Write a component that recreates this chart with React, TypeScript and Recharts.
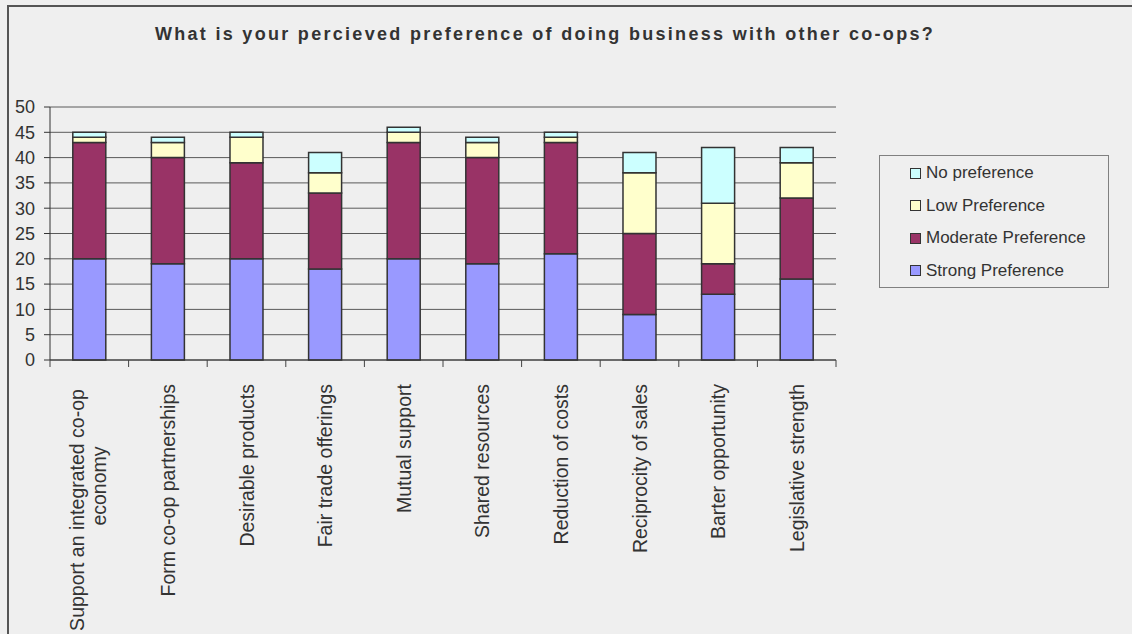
import React from 'react';
import { BarChart, Bar, XAxis, YAxis, CartesianGrid } from 'recharts';

const categories = [
  'Support an integrated co-op economy',
  'Form co-op partnerships',
  'Desirable products',
  'Fair trade offerings',
  'Mutual support',
  'Shared resources',
  'Reduction of costs',
  'Reciprocity of sales',
  'Barter opportunity',
  'Legislative strength',
];

const strongPref = [20, 19, 20, 18, 20, 19, 21, 9, 13, 16];
const moderatePref = [23, 21, 19, 15, 23, 21, 22, 16, 6, 16];
const lowPref = [1, 3, 5, 4, 2, 3, 1, 12, 12, 7];
const noPref = [1, 1, 1, 4, 1, 1, 1, 4, 11, 3];

const yTicks = [0, 5, 10, 15, 20, 25, 30, 35, 40, 45, 50];

const SERIES = [
  { key: 'strong', name: 'Strong Preference', color: '#9999ff' },
  { key: 'moderate', name: 'Moderate Preference', color: '#993366' },
  { key: 'low', name: 'Low Preference', color: '#ffffcc' },
  { key: 'none', name: 'No preference', color: '#ccffff' },
];

const data = categories.map((name, i) => ({
  name,
  strong: strongPref[i],
  moderate: moderatePref[i],
  low: lowPref[i],
  none: noPref[i],
}));

const FONT = '"Liberation Sans", Arial, sans-serif';
const TEXT = '#333333';

const CHART_W = 1132;
const CHART_H = 634;
const MARGIN = { top: 107, right: 296, bottom: 0, left: 0 };
const Y_AXIS_W = 50;
const X_AXIS_H = 274;

function CategoryTick(props: any) {
  const { x, y, payload, index } = props;
  const step = (CHART_W - MARGIN.right - MARGIN.left - Y_AXIS_W) / categories.length;
  const label: string = payload.value;
  const lines = label === categories[0] ? ['Support an integrated co-op', 'economy'] : [label];
  const top = y - 8;
  return (
    <g>
      <line x1={x - step / 2} y1={top} x2={x - step / 2} y2={top + 7} stroke="#444" />
      {index === categories.length - 1 && (
        <line x1={x + step / 2} y1={top} x2={x + step / 2} y2={top + 7} stroke="#444" />
      )}
      {lines.length === 1 ? (
        <text
          x={x}
          y={top + 24}
          transform={`rotate(-90, ${x}, ${top + 24})`}
          textAnchor="end"
          dominantBaseline="central"
          fontFamily={FONT}
          fontSize={19.5}
          fill={TEXT}
        >
          {lines[0]}
        </text>
      ) : (
        <text
          transform={`rotate(-90, ${x}, ${top + 150})`}
          x={x}
          y={top + 150}
          textAnchor="middle"
          fontFamily={FONT}
          fontSize={19.5}
          fill={TEXT}
        >
          <tspan x={x} dy={-5}>{lines[0]}</tspan>
          <tspan x={x + 24} dy={22}>{lines[1]}</tspan>
        </text>
      )}
    </g>
  );
}

function LegendBox() {
  const items = [...SERIES].reverse();
  return (
    <div
      style={{
        position: 'absolute',
        left: 879,
        top: 155,
        width: 230,
        height: 133,
        border: '1px solid #808080',
        boxSizing: 'border-box',
        background: '#efefef',
        paddingTop: 1,
        fontFamily: FONT,
        fontSize: 17,
        color: TEXT,
      }}
    >
      {items.map((s) => (
        <div key={s.key} style={{ display: 'flex', alignItems: 'center', height: 32.5, paddingLeft: 30 }}>
          <span
            style={{
              width: 9,
              height: 9,
              background: s.color,
              border: '1px solid #333',
              marginRight: 5,
              display: 'inline-block',
            }}
          />
          <span>{s.name}</span>
        </div>
      ))}
    </div>
  );
}

export default function App() {
  return (
    <div
      style={{
        position: 'fixed',
        left: 0,
        top: 0,
        width: CHART_W,
        height: CHART_H,
        background: '#efefef',
        overflow: 'hidden',
      }}
    >
      <div
        style={{
          position: 'absolute',
          left: 7,
          top: 5,
          width: CHART_W,
          height: CHART_H,
          borderLeft: '2px solid #555',
          borderTop: '2px solid #555',
        }}
      />
      <div
        style={{
          position: 'absolute',
          left: 0,
          top: 24,
          width: 1090,
          textAlign: 'center',
          fontFamily: FONT,
          fontWeight: 'bold',
          fontSize: 18,
          letterSpacing: 2.3,
          color: TEXT,
        }}
      >
        What is your percieved preference of doing business with other co-ops?
      </div>
      <BarChart
        width={CHART_W}
        height={CHART_H}
        data={data}
        margin={MARGIN}
        barCategoryGap="29%"
        style={{ position: 'absolute', left: 0, top: 0 }}
      >
        <CartesianGrid vertical={false} stroke="#5a5a5a" strokeWidth={1} />
        <XAxis
          dataKey="name"
          interval={0}
          tickLine={false}
          axisLine={{ stroke: '#333' }}
          tick={<CategoryTick />}
          height={X_AXIS_H}
        />
        <YAxis
          width={Y_AXIS_W}
          domain={[0, 50]}
          ticks={yTicks}
          interval={0}
          axisLine={{ stroke: '#333' }}
          tickLine={{ stroke: '#333' }}
          tickSize={6}
          tickMargin={9}
          tick={{ fontFamily: FONT, fontSize: 18, fill: TEXT }}
        />
        {SERIES.map((s) => (
          <Bar
            key={s.key}
            dataKey={s.key}
            name={s.name}
            stackId="a"
            fill={s.color}
            stroke="#333"
            strokeWidth={1.5}
            isAnimationActive={false}
          />
        ))}
      </BarChart>
      <LegendBox />
    </div>
  );
}
